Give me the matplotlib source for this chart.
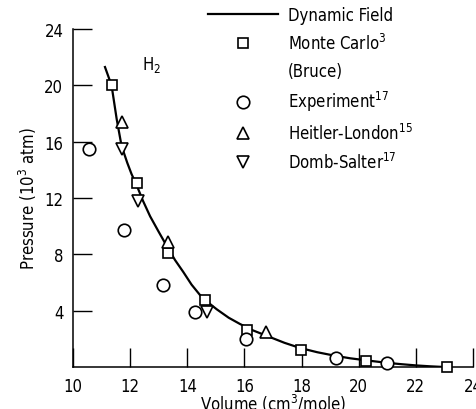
import matplotlib.pyplot as plt
from matplotlib.lines import Line2D

plt.rcParams['font.family'] = ['DejaVu Sans']
plt.rcParams['font.stretch'] = 'condensed'
plt.rcParams['mathtext.fontset'] = 'dejavusans'

# Dynamic field curve
curve_v = [11.12, 11.35, 11.53, 11.70, 11.9, 12.05, 12.23, 12.45, 12.7, 13.0,
           13.28, 13.57, 13.86, 14.15, 14.45, 14.75, 15.03, 15.45, 15.85, 16.3,
           16.9, 17.4, 17.95, 18.55, 19.17, 19.7, 20.28, 20.98, 21.5, 22.03,
           22.5, 23.0]
curve_p = [21.3, 20.0, 17.6, 15.7, 14.5, 13.7, 12.9, 11.8, 10.7, 9.6,
           8.6, 7.6, 6.75, 5.85, 5.1, 4.55, 4.1, 3.5, 3.05, 2.6,
           2.12, 1.72, 1.35, 1.05, 0.8, 0.62, 0.47, 0.3, 0.2, 0.11,
           0.05, 0.0]

# Monte Carlo (Bruce)
mc_v = [11.35, 12.23, 13.31, 14.62, 16.08, 17.98, 20.26, 23.1]
mc_p = [20.0, 13.1, 8.1, 4.76, 2.63, 1.2, 0.45, 0.0]

# Experiment
exp_v = [10.57, 11.79, 13.16, 14.27, 16.04, 19.19, 20.98]
exp_p = [15.5, 9.7, 5.85, 3.88, 2.0, 0.62, 0.26]

# Heitler-London
hl_v = [11.73, 13.31, 16.74]
hl_p = [17.4, 8.85, 2.46]

# Domb-Salter
ds_v = [11.73, 12.26, 14.68]
ds_p = [15.5, 11.8, 3.88]

xticks = [10, 12, 14, 16, 18, 20, 22, 24]
yticks = [4, 8, 12, 16, 20, 24]

fig = plt.figure(figsize=(4.77, 4.10), dpi=100)
ax = fig.add_axes([0.153, 0.1024, 0.8386, 0.8244])

mk = dict(linestyle='none', markerfacecolor='white', markeredgecolor='black',
          markeredgewidth=1.2, clip_on=False, zorder=3)

line, = ax.plot(curve_v, curve_p, color='black', lw=1.6, zorder=2,
                solid_joinstyle='round')
sq, = ax.plot(mc_v, mc_p, marker='s', markersize=7.5, **mk)
ci, = ax.plot(exp_v, exp_p, marker='o', markersize=9, **mk)
up, = ax.plot(hl_v, hl_p, marker='^', markersize=8, **mk)
dn, = ax.plot(ds_v, ds_p, marker='v', markersize=8, **mk)

ax.set_xlim(10, 24)
ax.set_ylim(0, 24)
ax.set_xticks(xticks)
ax.set_yticks(yticks)
ax.tick_params(direction='in', length=14, width=1, labelsize=12, pad=7)
ax.spines['top'].set_visible(False)
ax.spines['right'].set_visible(False)
ax.spines['left'].set_linewidth(1.1)
ax.spines['bottom'].set_linewidth(1.1)

ax.set_xlabel('Volume (cm$^3$/mole)', fontsize=12, labelpad=-2)
ax.set_ylabel('Pressure (10$^3$ atm)', fontsize=12, labelpad=4)

ax.text(12.75, 21.5, 'H$_2$', fontsize=12, ha='center', va='center')

blank = Line2D([], [], linestyle='none')
handles = [line, sq, blank, ci, up, dn]
labels = ['Dynamic Field', 'Monte Carlo$^3$', '(Bruce)', 'Experiment$^{17}$',
          'Heitler-London$^{15}$', 'Domb-Salter$^{17}$']
leg = fig.legend(handles, labels, loc='upper left', bbox_to_anchor=(0.422, 1.0),
                 frameon=False, fontsize=12, handlelength=4.2, handletextpad=0.6,
                 labelspacing=0.55, borderaxespad=0)

fig.savefig('out.png', dpi=100)
